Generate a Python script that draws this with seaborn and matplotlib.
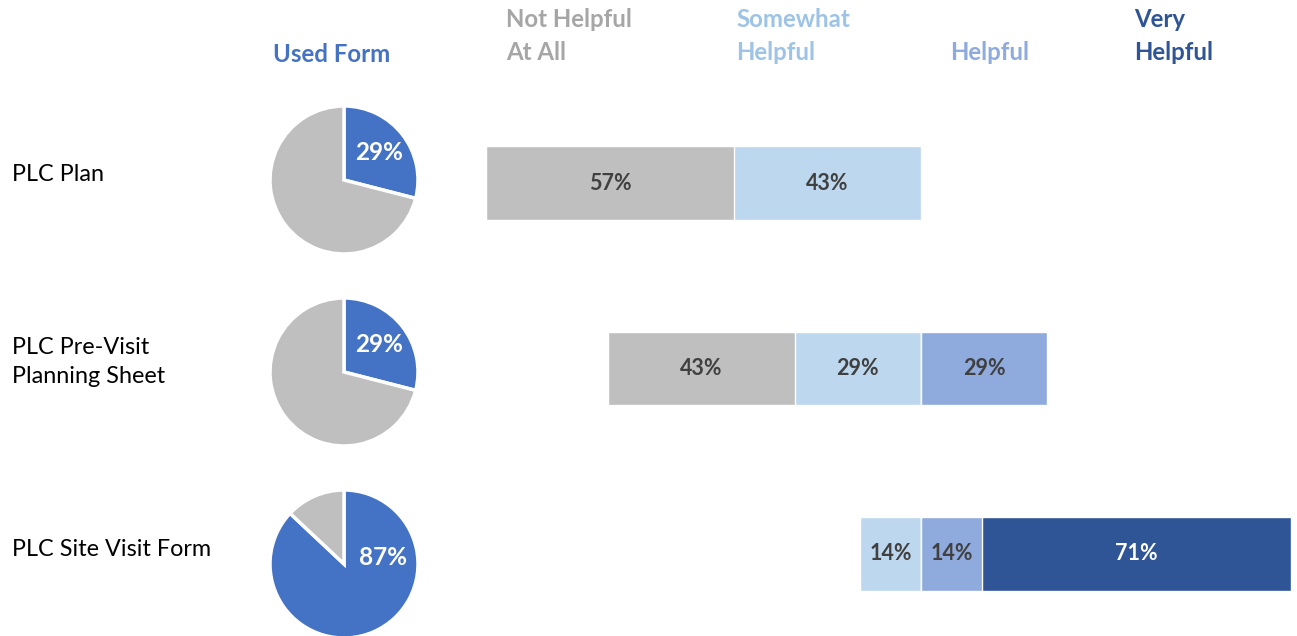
import numpy as np
import pandas as pd
import matplotlib
matplotlib.use("Agg")
import matplotlib.pyplot as plt
import seaborn as sns

# ---- data -------------------------------------------------------------
forms = ["PLC Plan", "PLC Pre-Visit\nPlanning Sheet", "PLC Site Visit Form"]
used_form = [29, 29, 87]                 # % of respondents who used the form
not_helpful = [57, 43, 0]                # Not Helpful At All
somewhat_helpful = [43, 29, 14]          # Somewhat Helpful
helpful = [0, 29, 14]                    # Helpful
very_helpful = [0, 0, 71]                # Very Helpful
headers = ["Not Helpful\nAt All", "Somewhat\nHelpful", "Helpful", "Very\nHelpful"]

# ---- style ------------------------------------------------------------
sns.set_theme(style="white")
plt.rcParams["font.family"] = ["Lato", "DejaVu Sans"]

C_GRAY, C_LIGHT, C_MID, C_DARK = "#BFBFBF", "#BDD7EE", "#8FAADC", "#2F5597"
C_PIE = "#4472C4"
C_LABEL = "#404040"
HEAD_COLORS = ["#A6A6A6", "#9DC3E6", "#8FAADC", "#2F5597"]

W, H = 1297, 636
fig = plt.figure(figsize=(W / 100, H / 100), dpi=100)


def fx(px):
    return px / W


def fy(py):
    return 1 - py / H


# ---- diverging stacked bars ------------------------------------------
ax = fig.add_axes([fx(480), 0, fx(W) - fx(480), 1])
zero_px, px_per_pct = 921, 4.35
ax.set_xlim((480 - zero_px) / px_per_pct, (W - zero_px) / px_per_pct)

df = pd.DataFrame({
    "form": forms,
    "nh": not_helpful,
    "sh": somewhat_helpful,
    "h": helpful,
    "vh": very_helpful,
})
df["neg_outer"] = -(df["nh"] + df["sh"])
df["neg_inner"] = -df["sh"]
df["pos_outer"] = df["h"] + df["vh"]
df["pos_inner"] = df["h"]

bar_kw = dict(y="form", order=forms, orient="h", width=0.395, errorbar=None,
              edgecolor="white", linewidth=1, ax=ax)
for col, color in [("neg_outer", C_GRAY), ("neg_inner", C_LIGHT),
                   ("pos_outer", C_DARK), ("pos_inner", C_MID)]:
    sub = df[df[col] != 0]
    sns.barplot(data=sub, x=col, color=color, saturation=1, **bar_kw)

row_spacing_px = 185.5
first_row_px = 183
ax.set_ylim((H - first_row_px) / row_spacing_px, -first_row_px / row_spacing_px)
ax.axis("off")

for i in range(len(forms)):
    segs = [
        (-(not_helpful[i] + somewhat_helpful[i]), not_helpful[i], C_LABEL),
        (-somewhat_helpful[i], somewhat_helpful[i], C_LABEL),
        (0, helpful[i], C_LABEL),
        (helpful[i], very_helpful[i], "white"),
    ]
    for start, val, tcol in segs:
        if val:
            ax.text(start + val / 2, i, f"{val}%", ha="center", va="center",
                    fontsize=15.5, fontweight="bold", color=tcol)

# ---- pies ---------------------------------------------------------------
pie_cx, pie_r = 344, 74
pie_cy = [180, 372, 564]
for i, used in enumerate(used_form):
    pax = fig.add_axes([fx(pie_cx - pie_r), fy(pie_cy[i] + pie_r),
                        2 * pie_r / W, 2 * pie_r / H])
    pax.pie([used, 100 - used], colors=[C_PIE, C_GRAY], startangle=90,
            counterclock=False, radius=1,
            wedgeprops=dict(edgecolor="white", linewidth=2.5))
    pax.set_xlim(-1, 1)
    pax.set_ylim(-1, 1)
    pax.set_aspect("equal")
    pax.axis("off")
    mid = used / 100 * 360 / 2 if used < 50 else 80
    ang = np.deg2rad(90 - mid)
    rr = 0.6 if used < 50 else 0.53
    pax.text(rr * np.cos(ang), rr * np.sin(ang), f"{used}%", ha="center",
             va="center", fontsize=17.5, fontweight="bold", color="white")

# ---- row labels -------------------------------------------------------
label_y = [174, 362, 550]
for name, y in zip(forms, label_y):
    fig.text(fx(12), fy(y), name, ha="left", va="center", fontsize=16.8,
             color="black", linespacing=1.5)

# ---- column headers ---------------------------------------------------
fig.text(fx(273), fy(54), "Used Form", ha="left", va="center", fontsize=17.3,
         fontweight="bold", color=C_PIE)
head_x = [506, 736, 950, 1134]
for text, x, col in zip(headers, head_x, HEAD_COLORS):
    yc = 36 if "\n" in text else 52
    fig.text(fx(x), fy(yc), text, ha="left", va="center", fontsize=17.3,
             fontweight="bold", color=col, linespacing=1.55)

fig.savefig("out.png", dpi=100)
